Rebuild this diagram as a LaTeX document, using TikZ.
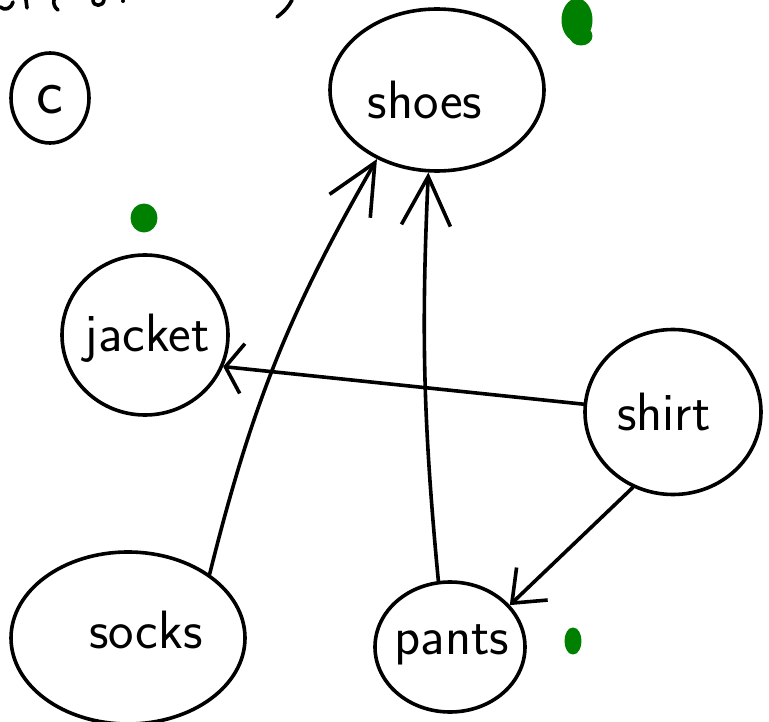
\documentclass[tikz,border=0pt]{standalone}
\usetikzlibrary{shapes.geometric,arrows.meta}
\begin{document}
\begin{tikzpicture}[x=1pt,y=-1pt,line width=3.6pt,line cap=round,line join=round,
  blob/.style={ellipse,draw,inner sep=0pt},
  word/.style={font=\sffamily\fontsize{54}{60}\selectfont,inner sep=0pt},
  ink/.style={fill={rgb,255:red,0;green,128;blue,0},draw={rgb,255:red,0;green,128;blue,0},line width=3pt}]
\useasboundingbox (0,0) rectangle (769,722);

% scribbled heading, cut off at the top edge
\draw (0,7) .. controls (5,11) and (11,9) .. (13,2);
\draw (26,0) -- (27,8);
\draw (54,0) .. controls (53,4) and (55,8) .. (58,10);
\draw (93,0) .. controls (93,7) and (103,7) .. (104,0);
\fill (123,1) circle (2pt);
\draw (277,17) .. controls (285,11) and (289,6) .. (292,0);

% circled label
\node[blob,minimum width=78pt,minimum height=90pt] (c) at (50,98) {};
\node[word,font=\sffamily\fontsize{64}{70}\selectfont] (ctext) at (50,100) {c};

% garment nodes
\node[blob,minimum width=214pt,minimum height=162pt] (shoes) at (437,90) {};
\node[word] (shoestext) at (425,100) {shoes};

\node[blob,minimum width=166pt,minimum height=160pt] (jacket) at (145,335) {};
\node[word] (jackettext) at (147,338) {jacket};

\node[blob,minimum width=176pt,minimum height=165pt] (shirt) at (673,412) {};
\node[word] (shirttext) at (664,412) {shirt};

\node[blob,minimum width=234pt,minimum height=172pt] (socks) at (128,638) {};
\node[word] (sockstext) at (146,630) {socks};

\node[blob,minimum width=150pt,minimum height=130pt] (pants) at (450,647) {};
\node[word] (pantstext) at (452,645) {pants};

% dependencies
\draw[-{Straight Barb[length=50pt,width=47pt]}] (socks.38) to[bend left=8] (shoes.229);
\draw[-{Straight Barb[length=49pt,width=49pt]}] (pants.100) to[bend left=4] (shoes.264);
\draw[-{Straight Barb[length=17pt,width=50pt]}] (shirt.175) -- (jacket.338);
\draw[-{Straight Barb[length=28pt,width=45pt]}] (shirt.242) -- (pants.35);

% green marks
\filldraw[ink] (577,20) ellipse[x radius=14pt,y radius=20pt];
\filldraw[ink] (581,36) ellipse[x radius=10pt,y radius=8pt];
\filldraw[ink] (144,218) ellipse[x radius=12pt,y radius=13pt];
\filldraw[ink] (573,641) ellipse[x radius=7pt,y radius=12pt];
\end{tikzpicture}
\end{document}
